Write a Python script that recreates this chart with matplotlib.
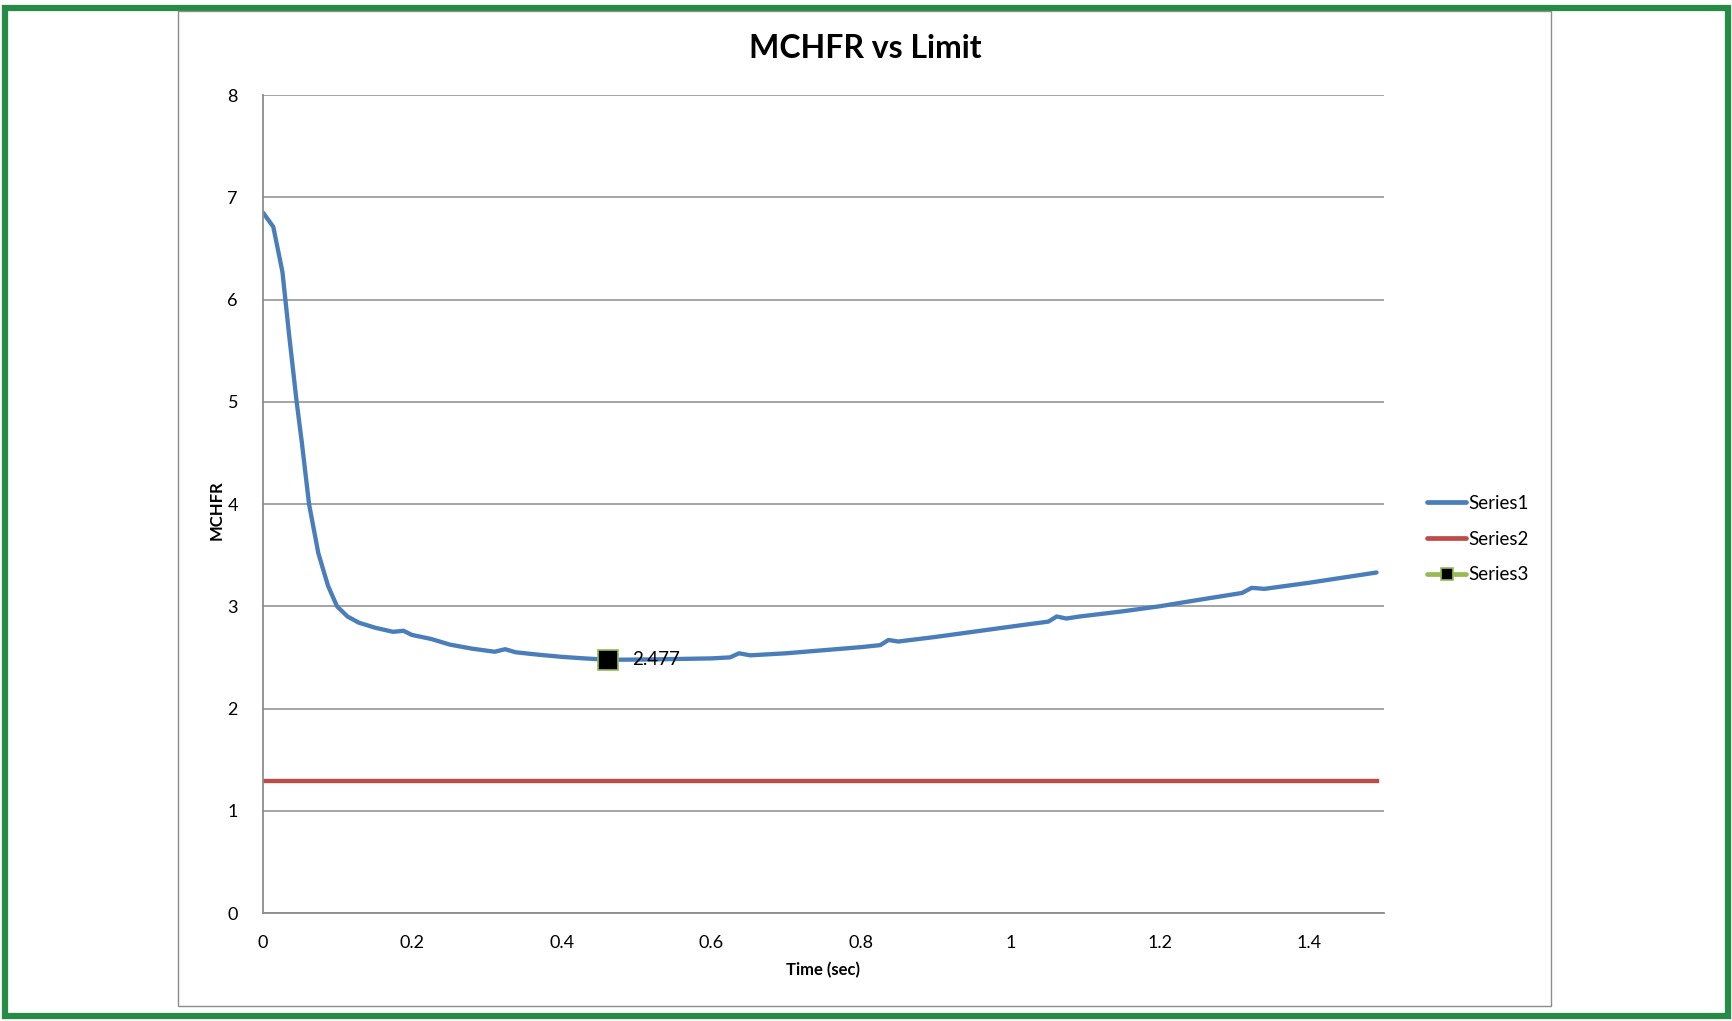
import matplotlib
matplotlib.use("Agg")
import matplotlib.pyplot as plt
from matplotlib.patches import Rectangle

plt.rcParams['font.family'] = ['Lato', 'DejaVu Sans']

# ---- data ----
time_s = [0.0, 0.0138, 0.026, 0.035, 0.045, 0.052, 0.0616, 0.074, 0.087, 0.099,
          0.113, 0.128, 0.15, 0.174, 0.188, 0.199, 0.225, 0.25, 0.28, 0.31,
          0.324, 0.338, 0.37, 0.40, 0.43, 0.4617, 0.49, 0.52, 0.56, 0.60,
          0.625, 0.637, 0.652, 0.70, 0.75, 0.80, 0.826, 0.837, 0.85, 0.90,
          0.95, 1.00, 1.051, 1.062, 1.075, 1.093, 1.15, 1.20, 1.25, 1.31,
          1.323, 1.34, 1.40, 1.49]
mchfr = [6.85, 6.71, 6.27, 5.65, 5.0, 4.6, 4.0, 3.52, 3.20, 3.0,
         2.90, 2.84, 2.79, 2.75, 2.76, 2.72, 2.68, 2.625, 2.585, 2.555,
         2.58, 2.55, 2.525, 2.505, 2.49, 2.477, 2.478, 2.48, 2.485, 2.49,
         2.50, 2.54, 2.52, 2.54, 2.57, 2.60, 2.62, 2.67, 2.655, 2.70,
         2.75, 2.80, 2.85, 2.90, 2.88, 2.90, 2.95, 3.00, 3.06, 3.13,
         3.18, 3.17, 3.23, 3.33]
limit_time = [0.0, 1.49]
limit_value = [1.29, 1.29]
min_time = [0.4617]
min_value = [2.477]
x_ticks = [0, 0.2, 0.4, 0.6, 0.8, 1.0, 1.2, 1.4]
x_tick_labels = ["0", "0.2", "0.4", "0.6", "0.8", "1", "1.2", "1.4"]
y_ticks = [0, 1, 2, 3, 4, 5, 6, 7, 8]
series_names = ["Series1", "Series2", "Series3"]

W, H = 1732, 1021
fig = plt.figure(figsize=(W / 100, H / 100), dpi=100)

def fx(px):
    return px / W

def fy(py):
    return 1 - py / H

# outer green border
fig.patches.append(Rectangle((fx(5), fy(1016)), fx(1728) - fx(5), fy(8) - fy(1016),
                             transform=fig.transFigure, fill=False,
                             edgecolor="#268C45", linewidth=4.5, zorder=0))
# chart area border
fig.patches.append(Rectangle((fx(178), fy(1006)), fx(1551) - fx(178), fy(11) - fy(1006),
                             transform=fig.transFigure, fill=False,
                             edgecolor="#8C8C8C", linewidth=1.0, zorder=0))

ax = fig.add_axes([fx(263), fy(913), fx(1384) - fx(263), fy(95) - fy(913)])
grid_c = "#8C8C8C"
ax.set_xlim(0, 1.5)
ax.set_ylim(0, 8)
ax.set_xticks(x_ticks)
ax.set_xticklabels(x_tick_labels)
ax.set_yticks(y_ticks)
ax.tick_params(length=0, labelsize=13, colors="#000000")
ax.tick_params(axis="y", pad=18)
ax.tick_params(axis="x", pad=16)
for s in ["top", "right"]:
    ax.spines[s].set_visible(False)
for s in ["left", "bottom"]:
    ax.spines[s].set_color(grid_c)
    ax.spines[s].set_linewidth(1.3)
ax.yaxis.grid(True, color=grid_c, linewidth=1.1)
ax.set_axisbelow(True)

l1, = ax.plot(time_s, mchfr, color="#4A7EBB", linewidth=3.1, solid_joinstyle="round",
              solid_capstyle="round", label=series_names[0])
l2, = ax.plot(limit_time, limit_value, color="#BE4B48", linewidth=3.1, label=series_names[1])
l3, = ax.plot(min_time, min_value, color="#98B954", linewidth=3.1, marker="s",
              markersize=14, markerfacecolor="#000000", markeredgecolor="#98B954",
              markeredgewidth=1.2, label=series_names[2], zorder=5)
ax.annotate(f"{min_value[0]:.3f}", (min_time[0], min_value[0]), xytext=(17, 0),
            textcoords="offset points", va="center", ha="left", fontsize=13.5)

leg = ax.legend(handles=[l1, l2, l3], loc="center left", bbox_to_anchor=(fx(1427), fy(539)),
                bbox_transform=fig.transFigure, frameon=False, fontsize=13.5,
                handlelength=2.1, handletextpad=0.1, labelspacing=1.0, borderpad=0,
                borderaxespad=0, markerscale=0.65)
for h in leg.legend_handles:
    h.set_linewidth(3.4)
    h.set_solid_capstyle("round")

fig.text(fx(865), fy(49), "MCHFR vs Limit", ha="center", va="center",
         fontsize=23, fontweight="bold")
fig.text(fx(823), fy(970), "Time (sec)", ha="center", va="center",
         fontsize=12, fontweight="bold")
fig.text(fx(217), fy(510), "MCHFR", ha="center", va="center", rotation=90,
         fontsize=12, fontweight="bold")

fig.savefig("out.png", dpi=100)
